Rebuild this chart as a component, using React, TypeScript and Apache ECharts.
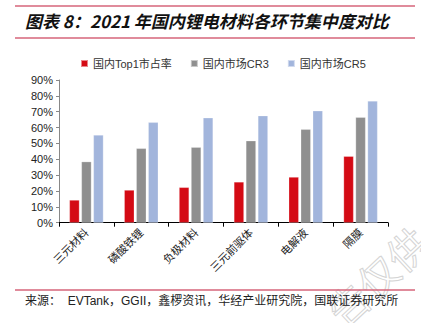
import React, { useEffect, useRef } from "react";
import * as echarts from "echarts";

const categories = ["三元材料", "磷酸铁锂", "负极材料", "三元前驱体", "电解液", "隔膜"];
const seriesNames = ["国内Top1市占率", "国内市场CR3", "国内市场CR5"];
const top1 = [14.3, 20.6, 22.3, 25.7, 28.8, 41.9];
const cr3 = [38.5, 46.9, 47.6, 51.7, 58.9, 66.5];
const cr5 = [55.3, 63.3, 66.2, 67.5, 70.6, 76.8];
const colors = ["#d40a14", "#8f8f8f", "#a2b5dc"];
const titleText = "图表 8：2021 年国内锂电材料各环节集中度对比";
const sourceText = "来源：  EVTank，GGII，鑫椤资讯，华经产业研究院，国联证券研究所";
const watermarkText = "告仅供";

export default function App() {
  const ref = useRef<HTMLDivElement>(null);
  useEffect(() => {
    if (!ref.current) return;
    const chart = echarts.init(ref.current, null, { renderer: "svg" });
    const font = "Arial, 'Liberation Sans', 'Noto Sans CJK SC', sans-serif";
    const lineColor = "#d6657a";
    const data = [top1, cr3, cr5];
    chart.setOption({
      animation: false,
      backgroundColor: "#ffffff",
      textStyle: { fontFamily: font },
      title: {
        text: titleText,
        left: 25,
        top: 12,
        padding: 0,
        textStyle: {
          fontFamily: "'Noto Sans CJK SC', sans-serif",
          fontSize: 17,
          fontWeight: "bold",
          fontStyle: "italic",
          color: "#111111",
        },
      },
      legend: {
        left: 80,
        top: 58,
        padding: 0,
        itemWidth: 7,
        itemHeight: 7,
        itemGap: 18,
        icon: "rect",
        data: seriesNames,
        textStyle: { fontSize: 11, color: "#333333", fontFamily: font },
      },
      grid: { left: 59, right: 33, top: 80, bottom: 100.3, containLabel: false },
      xAxis: {
        type: "category",
        data: categories,
        axisLine: { lineStyle: { color: "#000000", width: 1 } },
        axisTick: { show: true, length: 4, lineStyle: { color: "#000000" } },
        axisLabel: { rotate: 45, fontSize: 11, color: "#222222", margin: 8, fontFamily: font },
      },
      yAxis: {
        type: "value",
        min: 0,
        max: 90,
        interval: 10,
        splitLine: { show: false },
        axisLine: { show: true, lineStyle: { color: "#888888", width: 1 } },
        axisTick: { show: true, length: 3, lineStyle: { color: "#888888" } },
        axisLabel: { formatter: "{value}%", fontSize: 11, color: "#222222", margin: 6, fontFamily: font },
      },
      series: seriesNames.map((name, i) => ({
        name,
        type: "bar",
        data: data[i],
        barGap: "20%",
        barCategoryGap: "38%",
        itemStyle: { color: colors[i], borderColor: "rgba(255,255,255,0.5)", borderWidth: 0.5 },
      })),
      graphic: [
        {
          type: "text",
          x: 377,
          y: 276,
          rotation: 0.75,
          style: {
            text: watermarkText,
            fontSize: 40,
            fontFamily: "'Noto Sans CJK SC', sans-serif",
            align: "center",
            verticalAlign: "middle",
            fill: "rgba(255,255,255,0)",
            stroke: "#d4d4d4",
            lineWidth: 1,
          },
          z: -1,
        },
        { type: "line", shape: { x1: 15, y1: 6, x2: 415, y2: 6 }, style: { stroke: lineColor, lineWidth: 1.5 } },
        { type: "line", shape: { x1: 15, y1: 38, x2: 415, y2: 38 }, style: { stroke: lineColor, lineWidth: 1.5 } },
        { type: "line", shape: { x1: 15, y1: 290, x2: 415, y2: 290 }, style: { stroke: lineColor, lineWidth: 1.5 } },
        {
          type: "text",
          left: 25,
          top: 295,
          style: { text: sourceText, fontSize: 12, fill: "#222222", fontFamily: font },
        },
      ],
    });
    return () => chart.dispose();
  }, []);
  return <div ref={ref} style={{ position: "fixed", left: 0, top: 0, width: 421, height: 323 }} />;
}
